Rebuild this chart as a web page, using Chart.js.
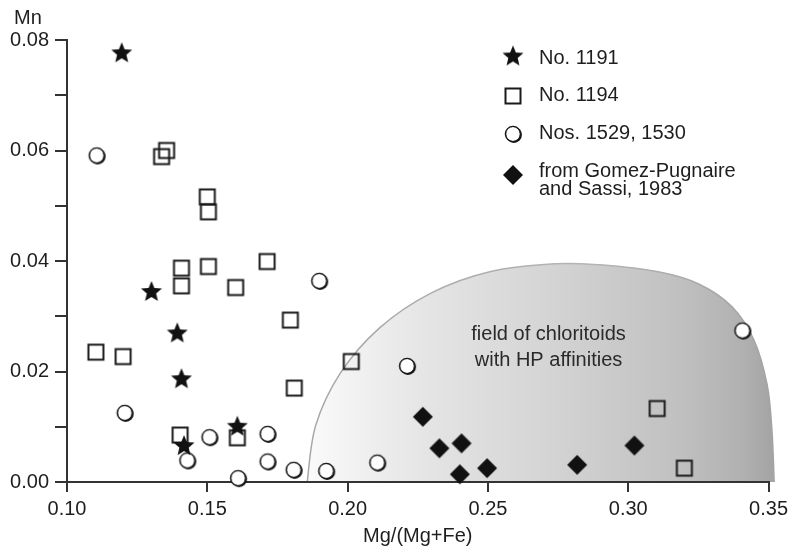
<!DOCTYPE html>
<html>
<head>
<meta charset="utf-8">
<script src="https://cdn.jsdelivr.net/npm/chart.js@4/dist/chart.umd.min.js"></script>
<style>
  html, body { margin: 0; padding: 0; background: #fff; }
  canvas { display: block; }
</style>
</head>
<body>
<canvas id="chart" width="793" height="554"></canvas>
<script>
// Mn (apfu) against Mg/(Mg+Fe) for chloritoid analyses

const seriesLabels = ['No. 1191', 'No. 1194', 'Nos. 1529, 1530', ['from Gomez-Pugnaire', 'and Sassi, 1983']];

const no1191X = [0.1195, 0.1301, 0.1393, 0.1408, 0.1417, 0.1607];
const no1191Y = [0.0776, 0.0344, 0.0269, 0.0186, 0.0065, 0.0100];

const no1194X = [0.1337, 0.1355, 0.1500, 0.1504, 0.1408, 0.1408, 0.1504, 0.1601, 0.1713,
                 0.1796, 0.1810, 0.2013, 0.1103, 0.1200, 0.1403, 0.1607, 0.3103, 0.3200];
const no1194Y = [0.0589, 0.0600, 0.0516, 0.0489, 0.0387, 0.0355, 0.0390, 0.0352, 0.0399,
                 0.0293, 0.0170, 0.0218, 0.0235, 0.0227, 0.0085, 0.0080, 0.0133, 0.0025];

const no1529X = [0.1106, 0.1206, 0.1429, 0.1508, 0.1610, 0.1715, 0.1715, 0.1808, 0.1899,
                 0.1924, 0.2106, 0.2212, 0.3407];
const no1529Y = [0.0591, 0.0125, 0.0039, 0.0081, 0.0007, 0.0087, 0.0037, 0.0022, 0.0364,
                 0.0020, 0.0035, 0.0210, 0.0274];

const gomezX = [0.2268, 0.2327, 0.2406, 0.2400, 0.2497, 0.2818, 0.3022];
const gomezY = [0.0118, 0.0061, 0.0070, 0.0014, 0.0025, 0.0031, 0.0066];

// outline of the HP chloritoid field (Mg/(Mg+Fe), Mn)
const fieldX = [0.1856, 0.1886, 0.1974, 0.2114, 0.2297, 0.2510, 0.2738,
                0.2898, 0.3111, 0.3253, 0.3370, 0.3448, 0.3495, 0.3512, 0.3520];
const fieldY = [0.0000, 0.0102, 0.0197, 0.0279, 0.0342, 0.0381, 0.0395,
                0.0393, 0.0380, 0.0358, 0.0317, 0.0257, 0.0176, 0.0094, 0.0000];
const fieldText = ['field of chloritoids', 'with HP affinities'];

const xTicks = [0.10, 0.15, 0.20, 0.25, 0.30, 0.35];
const xTickLabels = ['0.10', '0.15', '0.20', '0.25', '0.30', '0.35'];
const yTicks = [0, 0.01, 0.02, 0.03, 0.04, 0.05, 0.06, 0.07, 0.08];
const yTickLabels = ['0.00', '', '0.02', '', '0.04', '', '0.06', '', '0.08'];

const xTitle = 'Mg/(Mg+Fe)';
const yTitle = 'Mn';

const FONT = "'Liberation Sans', Arial, Helvetica, sans-serif";
const INK = '#1e1e1e';
const AXIS = '#333333';

Chart.defaults.font.family = FONT;
Chart.defaults.color = INK;

// ---- marker sprites ----
function sprite(size, draw) {
  const c = document.createElement('canvas');
  c.width = c.height = size;
  draw(c.getContext('2d'), size / 2);
  return c;
}
const starImg = sprite(24, (g, c) => {
  g.beginPath();
  for (let i = 0; i < 10; i++) {
    const r = i % 2 ? 4.9 : 11;
    const a = -Math.PI / 2 + i * Math.PI / 5;
    g.lineTo(c + r * Math.cos(a), c + r * Math.sin(a));
  }
  g.closePath();
  g.fillStyle = '#111';
  g.fill();
});
const squareImg = sprite(20, (g, c) => {
  g.strokeStyle = '#1a1a1a';
  g.lineWidth = 2;
  g.strokeRect(c - 7.5, c - 7.5, 15, 15);
});
const circleImg = sprite(22, (g, c) => {
  g.fillStyle = '#111';
  g.beginPath(); g.arc(c + 0.9, c + 0.9, 8.0, 0, Math.PI * 2); g.fill();
  g.fillStyle = '#fff';
  g.beginPath(); g.arc(c, c, 6.9, 0, Math.PI * 2); g.fill();
  g.strokeStyle = '#1a1a1a';
  g.lineWidth = 1.4;
  g.beginPath(); g.arc(c, c, 7.6, 0, Math.PI * 2); g.stroke();
});
const diamondImg = sprite(22, (g, c) => {
  g.beginPath();
  g.moveTo(c, c - 10); g.lineTo(c + 10, c); g.lineTo(c, c + 10); g.lineTo(c - 10, c);
  g.closePath();
  g.fillStyle = '#111';
  g.fill();
});
const markerImgs = [starImg, squareImg, circleImg, diamondImg];

function makeSet(label, xs, ys, img) {
  return {
    label: Array.isArray(label) ? label.join(' ') : label,
    data: xs.map((x, i) => ({ x: x, y: ys[i] })),
    pointStyle: img,
    pointRadius: 9,
    pointHoverRadius: 9,
    showLine: false,
    clip: false
  };
}

// ---- shaded HP field, drawn beneath axes and points ----
const fieldPlugin = {
  id: 'hpField',
  beforeDraw(chart) {
    const { ctx, scales: { x, y } } = chart;
    const pts = fieldX.map((v, i) => [x.getPixelForValue(v), y.getPixelForValue(fieldY[i])]);
    const path = new Path2D();
    path.moveTo(pts[0][0], pts[0][1]);
    for (let i = 0; i < pts.length - 1; i++) {
      const p0 = pts[i - 1] || pts[i], p1 = pts[i], p2 = pts[i + 1], p3 = pts[i + 2] || pts[i + 1];
      path.bezierCurveTo(
        p1[0] + (p2[0] - p0[0]) / 6, p1[1] + (p2[1] - p0[1]) / 6,
        p2[0] - (p3[0] - p1[0]) / 6, p2[1] - (p3[1] - p1[1]) / 6,
        p2[0], p2[1]);
    }
    const x0 = pts[0][0], x1 = pts[pts.length - 1][0];
    const grad = ctx.createLinearGradient(x0, 0, x1, 0);
    grad.addColorStop(0.00, '#fafafa');
    grad.addColorStop(0.25, '#e5e5e5');
    grad.addColorStop(0.52, '#d4d4d4');
    grad.addColorStop(0.80, '#c0c0c0');
    grad.addColorStop(0.93, '#b1b1b1');
    grad.addColorStop(1.00, '#a3a3a3');
    const edge = ctx.createLinearGradient(x0, 0, x1, 0);
    edge.addColorStop(0.0, '#a6a6a6');
    edge.addColorStop(0.6, '#b4b4b4');
    edge.addColorStop(1.0, '#a3a3a3');
    ctx.save();
    const fillPath = new Path2D(path);
    fillPath.closePath();
    ctx.fillStyle = grad;
    ctx.fill(fillPath);
    ctx.strokeStyle = edge;
    ctx.lineWidth = 1.5;
    ctx.stroke(path);

    ctx.fillStyle = '#2a2a2a';
    ctx.font = '20px ' + FONT;
    ctx.textAlign = 'center';
    ctx.textBaseline = 'alphabetic';
    const tx = x.getPixelForValue(0.2716);
    const ty = y.getPixelForValue(0.0257);
    fieldText.forEach((t, i) => ctx.fillText(t, tx, ty + i * 26));
    ctx.restore();
  }
};

// ---- key and y-axis caption ----
const keyPlugin = {
  id: 'key',
  afterDraw(chart) {
    const ctx = chart.ctx;
    ctx.save();
    ctx.font = '20px ' + FONT;
    ctx.fillStyle = INK;
    ctx.textAlign = 'left';
    ctx.textBaseline = 'alphabetic';
    ctx.fillText(yTitle, 14, 23.5);

    const markerX = 513, textX = 539;
    const markerY = [56.5, 96, 134, 175];
    const baseY = [64, 100.7, 139, 176.7];
    seriesLabels.forEach((lab, i) => {
      const img = markerImgs[i];
      ctx.drawImage(img, markerX - img.width / 2, markerY[i] - img.height / 2);
      const lines = Array.isArray(lab) ? lab : [lab];
      lines.forEach((t, j) => ctx.fillText(t, textX, baseY[i] + j * 18.3));
    });
    ctx.restore();
  }
};

new Chart(document.getElementById('chart'), {
  type: 'scatter',
  data: {
    datasets: [
      makeSet(seriesLabels[0], no1191X, no1191Y, starImg),
      makeSet(seriesLabels[1], no1194X, no1194Y, squareImg),
      makeSet(seriesLabels[2], no1529X, no1529Y, circleImg),
      makeSet(seriesLabels[3], gomezX, gomezY, diamondImg)
    ]
  },
  options: {
    responsive: false,
    animation: false,
    events: [],
    layout: { padding: { left: 0, right: 24, top: 40, bottom: 0 } },
    plugins: { legend: { display: false }, tooltip: { enabled: false } },
    scales: {
      x: {
        type: 'linear',
        position: 'bottom',
        min: 0.10,
        max: 0.35,
        afterBuildTicks: s => { s.ticks = xTicks.map(v => ({ value: v })); },
        afterFit: s => { s.height = 72; },
        grid: { drawOnChartArea: false, drawTicks: true, tickLength: 10, color: AXIS, lineWidth: 2 },
        border: { display: true, color: AXIS, width: 2 },
        ticks: {
          autoSkip: false, maxRotation: 0, padding: 5,
          font: { size: 20 }, color: INK,
          callback: (v, i) => xTickLabels[i]
        },
        title: { display: true, text: xTitle, font: { size: 20 }, color: INK, padding: { top: 0, bottom: 6 } }
      },
      y: {
        type: 'linear',
        position: 'left',
        min: 0,
        max: 0.08,
        afterBuildTicks: s => { s.ticks = yTicks.map(v => ({ value: v })); },
        afterFit: s => { s.width = 67; },
        grid: { drawOnChartArea: false, drawTicks: true, tickLength: 12, color: AXIS, lineWidth: 2 },
        border: { display: true, color: AXIS, width: 2 },
        ticks: {
          autoSkip: false, padding: 6,
          font: { size: 20 }, color: INK,
          callback: (v, i) => yTickLabels[i]
        }
      }
    }
  },
  plugins: [fieldPlugin, keyPlugin]
});
</script>
</body>
</html>
